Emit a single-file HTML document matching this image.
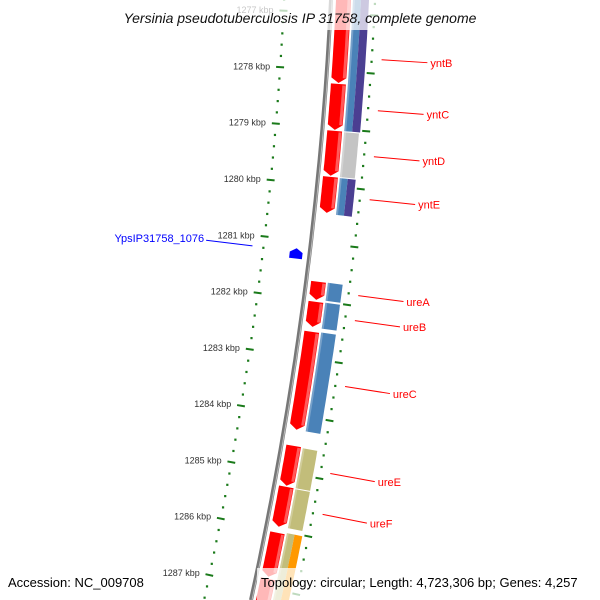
<!DOCTYPE html>
<html><head><meta charset="utf-8"><style>
html,body{margin:0;padding:0;background:#fff;overflow:hidden;width:600px;height:600px;}
svg{display:block;font-family:"Liberation Sans",sans-serif;overflow:hidden;}
</style></head><body>
<svg id="map" width="600" height="600" viewBox="0 0 600 600">
<g id="ticks"></g>
<g id="bb"></g>
<g id="feat"></g>
<g id="labs"></g>
<rect x="100" y="0" width="400" height="30" fill="#fff" fill-opacity="0.72"/>
<text x="300" y="23" text-anchor="middle" font-size="14" font-style="italic" fill="#111">Yersinia pseudotuberculosis IP 31758, complete genome</text>
<text x="8" y="587" font-size="13" fill="#000">Accession: NC_009708</text>
<rect x="257" y="568" width="343" height="32" fill="#fff" fill-opacity="0.72"/>
<text x="261" y="587" font-size="13" fill="#000">Topology: circular; Length: 4,723,306 bp; Genes: 4,257</text>
</svg>
<script>
// data (kbp)
const fwdNames=["yntB","yntC","yntD","yntE","ureA","ureB","ureC","ureE","ureF","ureG","gene11"];
const fwdStart=[1276.585,1278.223,1279.041,1279.842,1281.672,1282.021,1282.544,1284.530,1285.245,1286.046,1286.848];
const fwdEnd=[1278.206,1279.023,1279.824,1280.470,1281.986,1282.457,1284.250,1285.227,1285.941,1286.812,1287.560];
const cogStart=[1276.571,1279.050,1279.848,1281.667,1282.014,1282.532,1284.544,1285.255,1286.018];
const cogEnd=[1279.032,1279.830,1280.488,1281.979,1282.463,1284.250,1285.238,1285.931,1287.491];
const cogColorA=["#4a82b8","#c4c4c4","#4a82b8","#4a82b8","#4a82b8","#4a82b8","#c2bd7a","#c2bd7a","#c2bd7a"];
const cogColorB=["#4b3f92","#c4c4c4","#4b3f92","#4a82b8","#4a82b8","#4a82b8","#c2bd7a","#c2bd7a","#ff9900"];
const revStart=[1281.14];
const revEnd=[1281.32];
const labelNames=["yntB","yntC","yntD","yntE","ureA","ureB","ureC","ureE","ureF"];
const labelPos=[1277.755,1278.634,1279.426,1280.167,1281.819,1282.250,1283.385,1284.883,1285.589];
const leftLabelNames=["YpsIP31758_1076"];
const leftLabelPos=[1281.19];
const tickLabels=["1277 kbp","1278 kbp","1279 kbp","1280 kbp","1281 kbp","1282 kbp","1283 kbp","1284 kbp","1285 kbp","1286 kbp","1287 kbp"];
const tickValues=[1277,1278,1279,1280,1281,1282,1283,1284,1285,1286,1287];

const NS="http://www.w3.org/2000/svg";
function Y(k){return 10.6+(k-1277)*56.4;}
function bx(y){return 331-0.0488*y-0.000141*y*y;}
function P(k,d){const y0=Y(k);const s=Math.abs(-0.0488-0.000282*y0);const y=y0+(d+49)*s;return [bx(y)+d, y];}
function mk(tag,attrs,parent){const e=document.createElementNS(NS,tag);for(const a in attrs)e.setAttribute(a,attrs[a]);parent.appendChild(e);return e;}
function pts(a){return a.map(p=>p[0].toFixed(1)+","+p[1].toFixed(1)).join(" ");}
function band(k1,k2,d1,d2){const a=[],b=[];const n=12;for(let i=0;i<=n;i++){const k=k1+(k2-k1)*i/n;a.push(P(k,d1));b.push(P(k,d2));}return a.concat(b.reverse());}

const T=document.getElementById('ticks'),B=document.getElementById('bb'),F=document.getElementById('feat'),L=document.getElementById('labs');
{const a=[];for(let y=0;y<=600;y+=10){a.push([bx(y),y]);}
const p=mk('polyline',{points:pts(a),fill:'none',stroke:'#777','stroke-width':4},B);

const p2=mk('polyline',{points:pts(a.map(q=>[q[0]+1,q[1]])),fill:'none',stroke:'#bbb','stroke-width':1},B);
}
for(let k=1276.8;k<=1288.0;k+=0.2){
  const isMajor=Math.abs(k-Math.round(k))<0.01;
  [-47,44].forEach(d=>{
    if(isMajor){const a=P(k,d-4),b=P(k,d+4);
      const l=mk('line',{x1:a[0],y1:a[1],x2:b[0],y2:b[1],stroke:'#1a7a1a','stroke-width':2},T);
      }
    else{const c=P(k,d);const r=mk('rect',{x:c[0]-1,y:c[1]-1,width:2.2,height:2.2,fill:'#1a7a1a'},T);
      }
  });
}
tickValues.forEach((v,i)=>{const c=P(v,-57);
  const t=mk('text',{x:c[0],y:c[1]+3,'text-anchor':'end','font-size':9,fill:'#333'},T);t.textContent=tickLabels[i];
  });
fwdNames.forEach((n,i)=>{
  const k1=fwdStart[i],k2=fwdEnd[i];const tip=5/56.4;const kb=Math.max(k1,k2-tip);
  const body=band(k1,kb,5,20);const t=P(k2,12.5);
  const left=body.slice(0,13),right=body.slice(13);
  const poly=left.concat([t]).concat(right);
  const g=mk('polygon',{points:pts(poly),fill:'#ff0000'},F);
  
  const hl=band(k1+0.02,kb,16.5,19.5);
  const h=mk('polygon',{points:pts(hl),fill:'#ff5a5a'},F);
  
});
cogStart.forEach((s,i)=>{
  const e=cogEnd[i];
  if(cogColorA[i]===cogColorB[i]){const p=mk('polygon',{points:pts(band(s,e,22,37)),fill:cogColorA[i]},F);
    }
  else{const p=mk('polygon',{points:pts(band(s,e,22,30)),fill:cogColorA[i]},F);
    
    const q=mk('polygon',{points:pts(band(s,e,30,38)),fill:cogColorB[i]},F);
    }
  const h=mk('polygon',{points:pts(band(s,e,22,24)),fill:'#ffffff','fill-opacity':0.25},F);
  
});
revStart.forEach((s,i)=>{const e=revEnd[i];const tip=4/56.4;
  const a=P(e,-20),b=P(e,-7),c=P(s+tip,-7),d=P(s,-13.5),f=P(s+tip,-20);
  const p=mk('polygon',{points:pts([a,b,c,d,f]),fill:'#0000ff'},F);
  });
labelNames.forEach((n,i)=>{const a=P(labelPos[i],54),b=P(labelPos[i],100),c=P(labelPos[i],102);
  const l=mk('line',{x1:a[0],y1:a[1],x2:b[0],y2:b[1],stroke:'#ff0000','stroke-width':1},L);
  
  const t=mk('text',{x:c[0]+1,y:c[1]+4,'font-size':11,fill:'#ff0000'},L);t.textContent=n;
  });
leftLabelNames.forEach((n,i)=>{const a=P(leftLabelPos[i],-58),b=P(leftLabelPos[i],-105),c=P(leftLabelPos[i],-107);
  const l=mk('line',{x1:a[0],y1:a[1],x2:b[0],y2:b[1],stroke:'#0000ff','stroke-width':1},L);
  
  const t=mk('text',{x:c[0],y:c[1]+2,'font-size':11,fill:'#0000ff','text-anchor':'end'},L);t.textContent=n;
  });
</script>
</body></html>
